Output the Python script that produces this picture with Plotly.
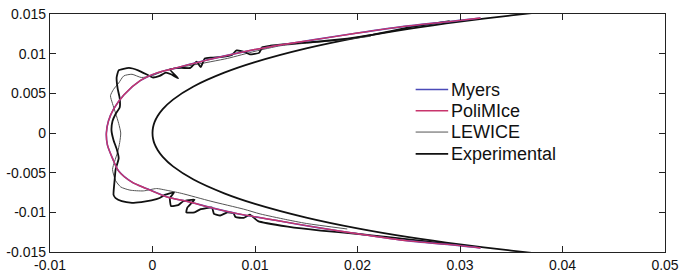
import plotly.graph_objects as go

# Clean airfoil (not in legend)
airfoil_x = [0.037, 0.035, 0.030, 0.025, 0.020, 0.015, 0.010, 0.007, 0.004, 0.002, 0.001, 0.0005, 0.0002, 0.00005, 0.0,
             0.00005, 0.0002, 0.0005, 0.001, 0.002, 0.004, 0.007, 0.010, 0.015, 0.020, 0.025, 0.030, 0.035, 0.037]
airfoil_y = [0.0151, 0.01482, 0.01405, 0.01313, 0.01202, 0.01066, 0.00893, 0.0076, 0.00586, 0.00421, 0.00301, 0.00214, 0.00137, 0.00069, 0.0,
             -0.00069, -0.00137, -0.00214, -0.00301, -0.00421, -0.00586, -0.0076, -0.00893, -0.01066, -0.01202, -0.01313, -0.01405, -0.01482, -0.0151]

# Myers
myers_x = [0.032, 0.030, 0.025, 0.020, 0.016, 0.012, 0.0084, 0.005, 0.002, 0.0005, -0.0012, -0.0028, -0.0038, -0.0043, -0.0045,
           -0.0044, -0.0039, -0.0033, -0.0020, -0.0006, 0.0015, 0.0033, 0.006, 0.0084, 0.012, 0.016, 0.020, 0.025, 0.030, 0.032]
myers_y = [0.0145, 0.0142, 0.0135, 0.0126, 0.0118, 0.0110, 0.0101, 0.0091, 0.0081, 0.0076, 0.0066, 0.0048, 0.0030, 0.0015, 0.0,
           -0.0015, -0.0032, -0.0048, -0.0062, -0.0070, -0.0081, -0.0086, -0.0095, -0.0102, -0.0110, -0.0119, -0.0127, -0.0136, -0.0142, -0.0145]

# PoliMIce
polimice_x = [0.032, 0.030, 0.025, 0.020, 0.016, 0.012, 0.0084, 0.005, 0.002, 0.0005, -0.0012, -0.0028, -0.0038, -0.0043, -0.0045,
              -0.0044, -0.0039, -0.0033, -0.0020, -0.0006, 0.0015, 0.0033, 0.006, 0.0084, 0.012, 0.016, 0.020, 0.025, 0.030, 0.032]
polimice_y = [0.0145, 0.0142, 0.0135, 0.0126, 0.0118, 0.0110, 0.0101, 0.0091, 0.0081, 0.0076, 0.0066, 0.0048, 0.0030, 0.0015, 0.0,
              -0.0015, -0.0032, -0.0048, -0.0062, -0.0070, -0.0081, -0.0086, -0.0095, -0.0102, -0.0110, -0.0119, -0.0127, -0.0136, -0.0142, -0.0145]

# LEWICE
lewice_x = [0.0213, 0.0189, 0.0157, 0.0125, 0.0100, 0.0073, 0.0041, 0.0015, -0.0001, -0.0011, -0.0020, -0.0028, -0.0033, -0.0038,
            -0.0041, -0.0039, -0.0036, -0.0033, -0.0031, -0.0032, -0.0034, -0.0037, -0.0039, -0.0036, -0.0031, -0.0022, -0.0009,
            0.0004, 0.0013, 0.0028, 0.0057, 0.0089, 0.0105, 0.0130, 0.0150, 0.0190]
lewice_y = [0.0122, 0.0118, 0.0114, 0.0110, 0.0103, 0.0094, 0.0086, 0.0080, 0.0072, 0.0070, 0.0074, 0.0072, 0.0063, 0.0055,
            0.0047, 0.0037, 0.0025, 0.0012, 0.0000, -0.0012, -0.0024, -0.0036, -0.0046, -0.0060, -0.0068, -0.0072, -0.0073,
            -0.0070, -0.0072, -0.0076, -0.0086, -0.0096, -0.0102, -0.0109, -0.0114, -0.0121]

# Experimental
exp_x = [0.0290, 0.0250, 0.0215, 0.0190, 0.0160, 0.0130, 0.0115, 0.0107, 0.0104, 0.0095, 0.0090, 0.0082, 0.0077, 0.0068,
         0.0058, 0.0051, 0.0047, 0.0043, 0.0037, 0.0028, 0.0017, 0.0025, 0.0018, 0.0013, 0.0007, 0.0000, -0.0006, -0.0014,
         -0.0023, -0.0033, -0.0035, -0.0034, -0.0032, -0.0032, -0.0036, -0.0039, -0.0040, -0.0038, -0.0035, -0.0033, -0.0036,
         -0.0037, -0.0038, -0.0036, -0.0030, -0.0020, -0.0011, -0.0001, 0.0007, 0.0012, 0.0021, 0.0017, 0.0018, 0.0025, 0.0030,
         0.0041, 0.0034, 0.0033, 0.0041, 0.0047, 0.0058, 0.0060, 0.0066, 0.0073, 0.0079, 0.0081, 0.0089, 0.0095, 0.0103,
         0.0132, 0.0164, 0.0199, 0.0228, 0.0263, 0.0290]
exp_y = [0.0141, 0.0133, 0.0124, 0.0119, 0.0115, 0.0112, 0.0110, 0.0108, 0.0101, 0.0099, 0.0102, 0.0104, 0.0098, 0.0096,
         0.0095, 0.0094, 0.0083, 0.0090, 0.0082, 0.0082, 0.0080, 0.0069, 0.0074, 0.0076, 0.0072, 0.0070, 0.0074, 0.0079,
         0.0082, 0.0079, 0.0070, 0.0056, 0.0044, 0.0032, 0.0024, 0.0015, 0.0003, -0.0009, -0.0020, -0.0032, -0.0046,
         -0.0060, -0.0078, -0.0082, -0.0086, -0.0088, -0.0087, -0.0085, -0.0082, -0.0078, -0.0075, -0.0082, -0.0092, -0.0091, -0.0086,
         -0.0084, -0.0094, -0.0100, -0.0100, -0.0096, -0.0094, -0.0102, -0.0104, -0.0100, -0.0101, -0.0106, -0.0107, -0.0103, -0.0111,
         -0.0118, -0.0123, -0.0127, -0.0131, -0.0136, -0.0140]

x_range = [-0.0100001, 0.0500001]
y_range = [-0.01500001, 0.01500001]
x_tickvals = [-0.01, 0, 0.01, 0.02, 0.03, 0.04, 0.05]
x_ticktext = ["-0.01", "0", "0.01", "0.02", "0.03", "0.04", "0.05"]
y_tickvals = [-0.015, -0.01, -0.005, 0, 0.005, 0.01, 0.015]
y_ticktext = ["-0.015", "-0.01", "-0.005", "0", "0.005", "0.01", "0.015"]

series_names = ["Myers", "PoliMIce", "LEWICE", "Experimental"]
series_colors = ["#4a4ab8", "#c8346c", "#555555", "#111111"]
series_widths = [1.6, 1.4, 1.0, 1.8]

fig = go.Figure()
fig.add_trace(go.Scatter(x=airfoil_x, y=airfoil_y, mode="lines", showlegend=False,
                         line=dict(color="#111111", width=1.8, shape="spline", smoothing=0.8)))
fig.add_trace(go.Scatter(x=lewice_x, y=lewice_y, mode="lines", name=series_names[2], showlegend=False,
                         line=dict(color=series_colors[2], width=series_widths[2], shape="spline", smoothing=0.6)))
fig.add_trace(go.Scatter(x=exp_x, y=exp_y, mode="lines", name=series_names[3], showlegend=False,
                         line=dict(color=series_colors[3], width=series_widths[3], shape="spline", smoothing=0.4)))
fig.add_trace(go.Scatter(x=myers_x, y=myers_y, mode="lines", name=series_names[0], showlegend=False,
                         line=dict(color=series_colors[0], width=series_widths[0], shape="spline", smoothing=0.8)))
fig.add_trace(go.Scatter(x=polimice_x, y=polimice_y, mode="lines", name=series_names[1], showlegend=False,
                         line=dict(color=series_colors[1], width=series_widths[1], shape="spline", smoothing=0.8)))

# Manual legend (paper coordinates), matching the reference layout
L, R, T, B = 49, 12, 6, 21
W, H = 685, 279
pw, ph = W - L - R, H - T - B
def px_x(p):
    return (p - L) / pw
def px_y(p):
    return (H - B - p) / ph

legend_rows_px = [86, 108.5, 131, 154]
for name, col, wd, ry in zip(series_names, series_colors, series_widths, legend_rows_px):
    fig.add_shape(type="line", xref="paper", yref="paper",
                  x0=px_x(420), x1=px_x(453), y0=px_y(ry), y1=px_y(ry),
                  line=dict(color=col, width=wd))
    fig.add_annotation(xref="paper", yref="paper", x=px_x(454), y=px_y(ry),
                       xanchor="left", yanchor="middle", showarrow=False, text=name,
                       font=dict(family="Liberation Sans", size=18, color="#111111"))

axis_common = dict(showline=True, linecolor="#222222", linewidth=1.3, mirror="ticks",
                   ticks="inside", ticklen=6, tickcolor="#222222", tickwidth=1.2,
                   showgrid=False, zeroline=False, ticklabeloverflow="allow",
                   tickfont=dict(family="Liberation Sans", size=14, color="#111111"))
fig.update_xaxes(range=x_range, tickvals=x_tickvals, ticktext=x_ticktext, **axis_common)
fig.update_yaxes(range=y_range, tickvals=y_tickvals, ticktext=y_ticktext, **axis_common)

fig.update_layout(
    width=W, height=H,
    margin=dict(l=L, r=R, t=T, b=B),
    plot_bgcolor="white", paper_bgcolor="white",
    showlegend=False,
)
fig.write_html("out.html", config={"displayModeBar": False},
               post_script="document.body.style.margin='0';document.body.style.overflow='hidden';"
                           "document.documentElement.style.overflow='hidden';")
